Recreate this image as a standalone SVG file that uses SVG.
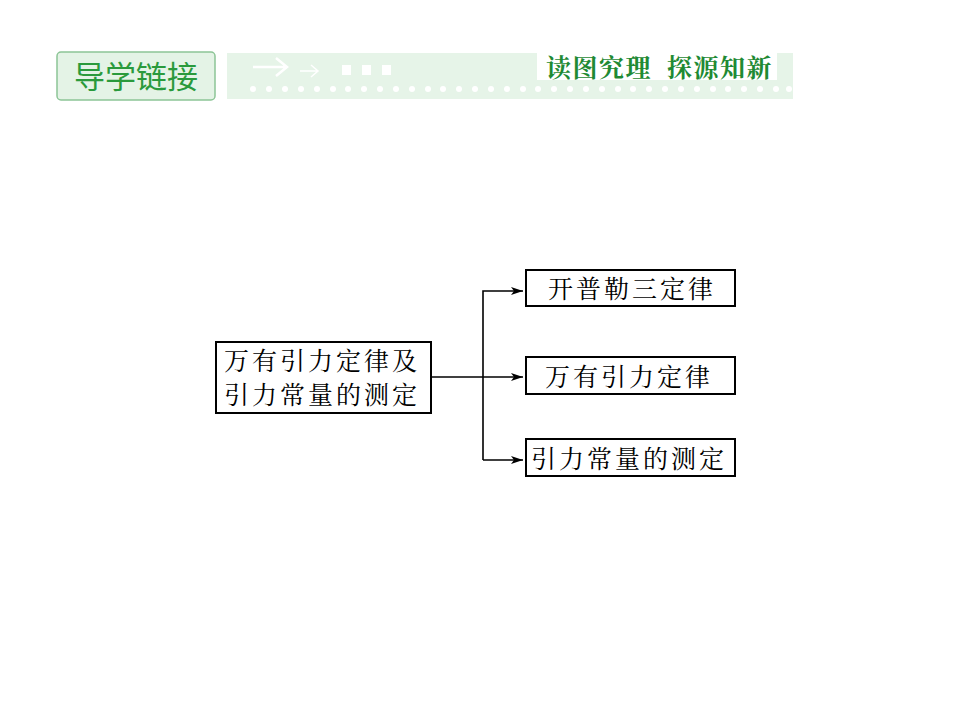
<svg xmlns="http://www.w3.org/2000/svg" width="960" height="720" viewBox="0 0 960 720">
<defs>
<style>
.box{fill:#fff;stroke:#000;stroke-width:2}
.t{font-family:"Noto Serif CJK SC","Noto Sans CJK SC",serif;font-size:25px;letter-spacing:3px;fill:#000}
.conn{fill:none;stroke:#000;stroke-width:1.6}
.dot{fill:#fff}
.hd{font-family:"Noto Serif CJK SC","Noto Sans CJK SC",serif;font-weight:bold;font-size:25px;letter-spacing:1.5px;fill:#1f8a34}
</style>
<marker id="ah" viewBox="0 0 12 8" refX="12" refY="4" markerWidth="12" markerHeight="8" markerUnits="userSpaceOnUse" orient="auto">
<path d="M0,0 L12,4 L0,8 L3,4 Z" fill="#000"/>
</marker>
</defs>
<rect width="960" height="720" fill="#fff"/>
<g id="header">
<rect x="57" y="52" width="158" height="48" rx="4" fill="#e4f3e6" stroke="#8cc596" stroke-width="1.5"/>
<text x="136" y="88" text-anchor="middle" font-family="Noto Sans CJK SC,sans-serif" font-size="31" fill="#2a9a3c">导学链接</text>
<rect x="227" y="53" width="566" height="46" fill="#e6f4e8"/>
<path d="M253,67 H286 M276,58 L287,67 L276,76" fill="none" stroke="#fff" stroke-width="2.5"/>
<path d="M300,71 H317 M311,65 L318,71 L311,77" fill="none" stroke="#fff" stroke-width="1.5"/>
<rect x="342" y="65" width="9" height="10" fill="#fff"/>
<rect x="362" y="65" width="9" height="10" fill="#fff"/>
<rect x="382" y="65" width="9" height="10" fill="#fff"/>
<g id="dots">
<circle class="dot" cx="253" cy="89" r="3"/><circle class="dot" cx="269" cy="89" r="3"/><circle class="dot" cx="285" cy="89" r="3"/><circle class="dot" cx="301" cy="89" r="3"/><circle class="dot" cx="317" cy="89" r="3"/><circle class="dot" cx="333" cy="89" r="3"/><circle class="dot" cx="348" cy="89" r="3"/><circle class="dot" cx="364" cy="89" r="3"/><circle class="dot" cx="380" cy="89" r="3"/><circle class="dot" cx="396" cy="89" r="3"/><circle class="dot" cx="412" cy="89" r="3"/><circle class="dot" cx="428" cy="89" r="3"/><circle class="dot" cx="443" cy="89" r="3"/><circle class="dot" cx="459" cy="89" r="3"/><circle class="dot" cx="475" cy="89" r="3"/><circle class="dot" cx="491" cy="89" r="3"/><circle class="dot" cx="507" cy="89" r="3"/><circle class="dot" cx="523" cy="89" r="3"/><circle class="dot" cx="538" cy="89" r="3"/><circle class="dot" cx="554" cy="89" r="3"/><circle class="dot" cx="570" cy="89" r="3"/><circle class="dot" cx="586" cy="89" r="3"/><circle class="dot" cx="602" cy="89" r="3"/><circle class="dot" cx="618" cy="89" r="3"/><circle class="dot" cx="633" cy="89" r="3"/><circle class="dot" cx="649" cy="89" r="3"/><circle class="dot" cx="665" cy="89" r="3"/><circle class="dot" cx="681" cy="89" r="3"/><circle class="dot" cx="697" cy="89" r="3"/><circle class="dot" cx="713" cy="89" r="3"/><circle class="dot" cx="728" cy="89" r="3"/><circle class="dot" cx="744" cy="89" r="3"/><circle class="dot" cx="760" cy="89" r="3"/><circle class="dot" cx="776" cy="89" r="3"/><circle class="dot" cx="789" cy="89" r="3"/>
</g>
<rect x="537" y="53" width="240" height="27" fill="#fff"/>
<text class="hd" x="546" y="77">读图究理</text>
<text class="hd" x="667" y="77">探源知新</text>
</g>
<g id="connectors">
<path class="conn" d="M431,377 H523" marker-end="url(#ah)"/>
<path class="conn" d="M483,460 V291 H523" marker-end="url(#ah)"/>
<path class="conn" d="M483,460 H523" marker-end="url(#ah)"/>
</g>
<g id="node-main">
<rect class="box" x="216" y="342" width="215" height="71"/>
<text class="t" x="224" y="370">万有引力定律及</text>
<text class="t" x="224" y="404">引力常量的测定</text>
</g>
<g id="node-kepler">
<rect class="box" x="526" y="270" width="209" height="36"/>
<text class="t" x="548" y="298">开普勒三定律</text>
</g>
<g id="node-gravity">
<rect class="box" x="526" y="357" width="209" height="37"/>
<text class="t" x="545" y="386">万有引力定律</text>
</g>
<g id="node-constant">
<rect class="box" x="526" y="439" width="209" height="37"/>
<text class="t" x="531" y="468">引力常量的测定</text>
</g>
</svg>
